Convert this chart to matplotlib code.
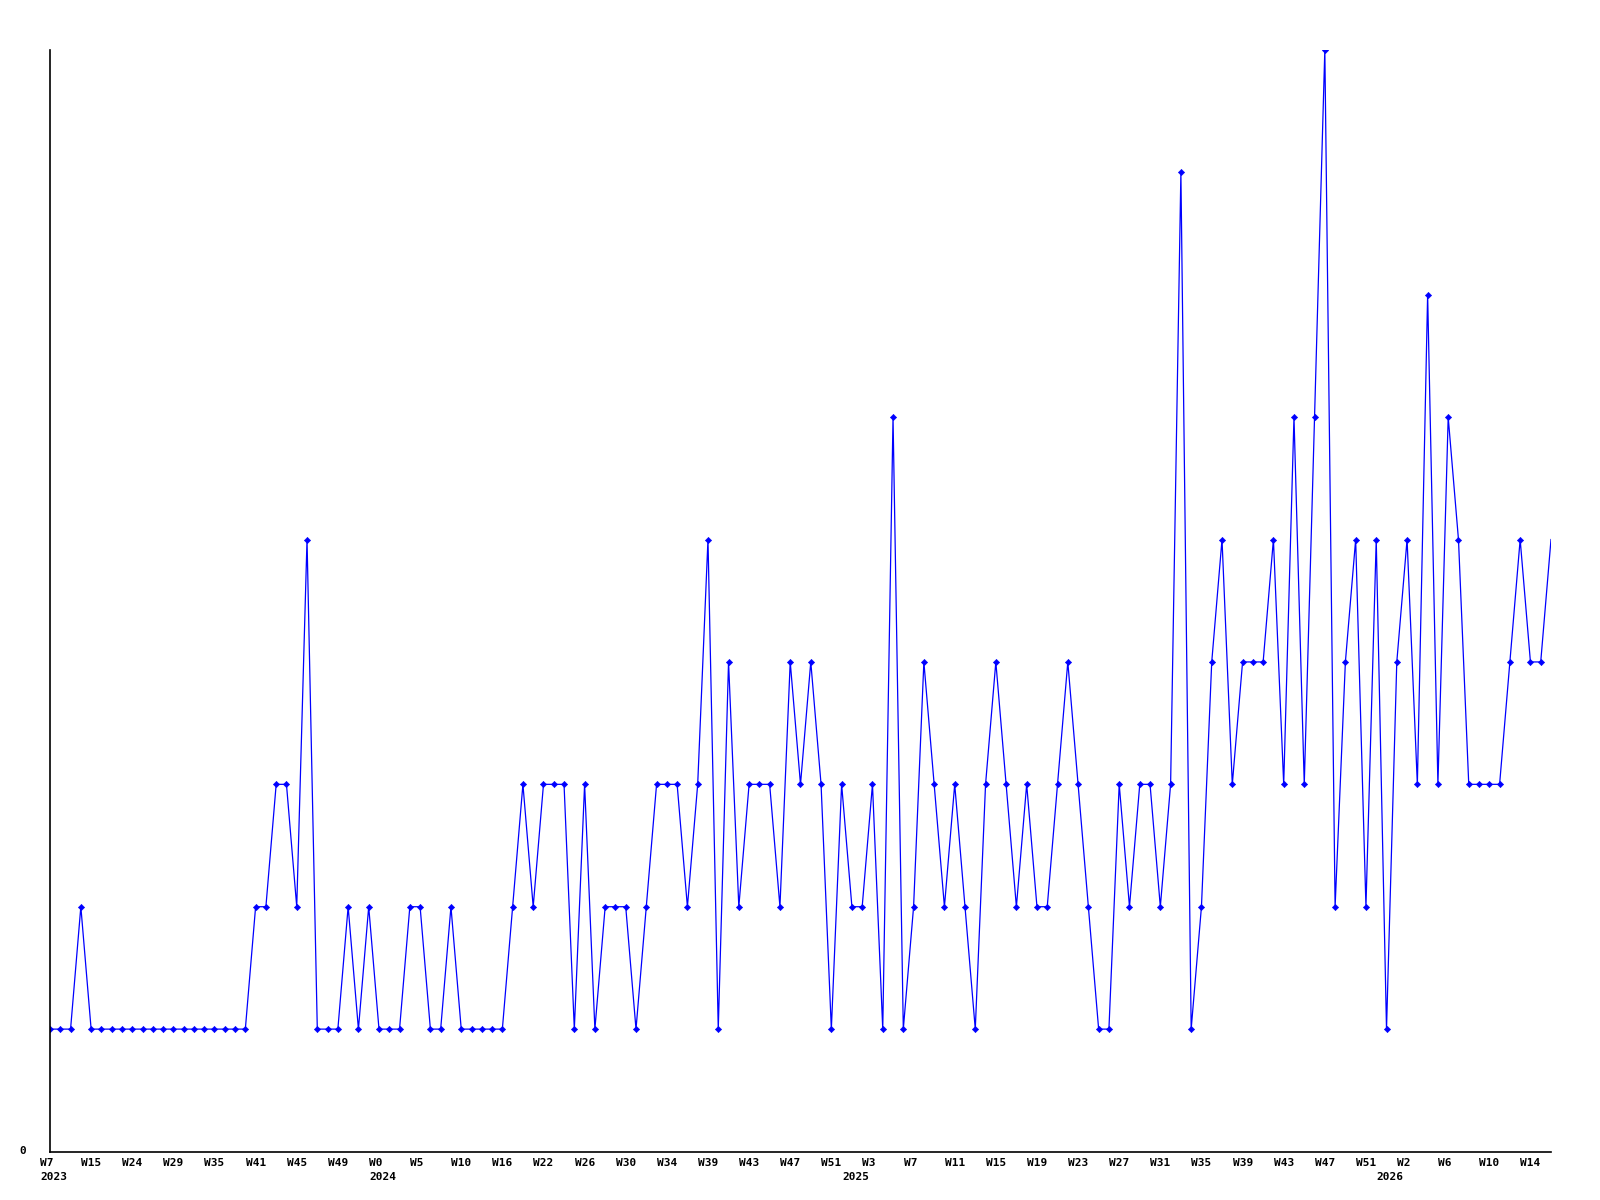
import matplotlib
matplotlib.use("Agg")
import matplotlib.pyplot as plt
from matplotlib.transforms import ScaledTranslation

values = [
    1, 1, 1, 2, 1, 1, 1, 1, 1, 1, 1, 1, 1, 1, 1, 1, 1, 1, 1, 1,
    2, 2, 3, 3, 2, 5, 1, 1, 1, 2, 1, 2, 1, 1, 1, 2, 2, 1, 1, 2,
    1, 1, 1, 1, 1, 2, 3, 2, 3, 3, 3, 1, 3, 1, 2, 2, 2, 1, 2, 3,
    3, 3, 2, 3, 5, 1, 4, 2, 3, 3, 3, 2, 4, 3, 4, 3, 1, 3, 2, 2,
    3, 1, 6, 1, 2, 4, 3, 2, 3, 2, 1, 3, 4, 3, 2, 3, 2, 2, 3, 4,
    3, 2, 1, 1, 3, 2, 3, 3, 2, 3, 8, 1, 2, 4, 5, 3, 4, 4, 4, 5,
    3, 6, 3, 6, 9, 2, 4, 5, 2, 5, 1, 4, 5, 3, 7, 3, 6, 5, 3, 3,
    3, 3, 4, 5, 4, 4, 5,
]

week_labels = ["W7", "W15", "W24", "W29", "W35", "W41", "W45", "W49", "W0",
               "W5", "W10", "W16", "W22", "W26", "W30", "W34", "W39", "W43",
               "W47", "W51", "W3", "W7", "W11", "W15", "W19", "W23", "W27",
               "W31", "W35", "W39", "W43", "W47", "W51", "W2", "W6", "W10",
               "W14"]
label_step = 4
year_labels = ["2023", "2024", "2025", "2026"]
year_positions = [0, 32, 78, 130]

W, H = 1600, 1200
fig = plt.figure(figsize=(16, 12), dpi=100)
ax = fig.add_axes([50 / W, (H - 1151.5) / H, (1551 - 50) / W, (1151.5 - 50) / H])

x = list(range(len(values)))
ax.plot(x, values, color="#0000FF", linewidth=0.9, marker="D", markersize=3.2,
        markeredgewidth=0.4, markerfacecolor="#0000FF", markeredgecolor="#0000FF",
        markevery=list(range(len(values) - 1)))

ax.set_xlim(0, len(values) - 1)
ax.set_ylim(0, 9)
ax.set_xticks([])
ax.set_yticks([])
for s in ["top", "right"]:
    ax.spines[s].set_visible(False)
ax.spines["left"].set_linewidth(1.2)
ax.spines["bottom"].set_linewidth(1.2)

font = dict(family="DejaVu Sans Mono", fontweight="bold", fontsize=8, color="black")
xt = ax.get_xaxis_transform()
off_w = ScaledTranslation(-10 / 100, -12 / 100, fig.dpi_scale_trans)
off_y = ScaledTranslation(-10 / 100, -25 / 100, fig.dpi_scale_trans)
for k, lab in enumerate(week_labels):
    ax.text(k * label_step, 0, lab, transform=xt + off_w, ha="left", va="center",
            clip_on=False, **font)
for lab, pos in zip(year_labels, year_positions):
    ax.text(pos, 0, lab, transform=xt + off_y, ha="left", va="center",
            clip_on=False, **font)

off_0 = ScaledTranslation(-27 / 100, 0, fig.dpi_scale_trans)
ax.text(0, 0, "0", transform=ax.transData + off_0, ha="center", va="center",
        clip_on=False, **font)

fig.savefig("out.png", dpi=100, facecolor="white")
